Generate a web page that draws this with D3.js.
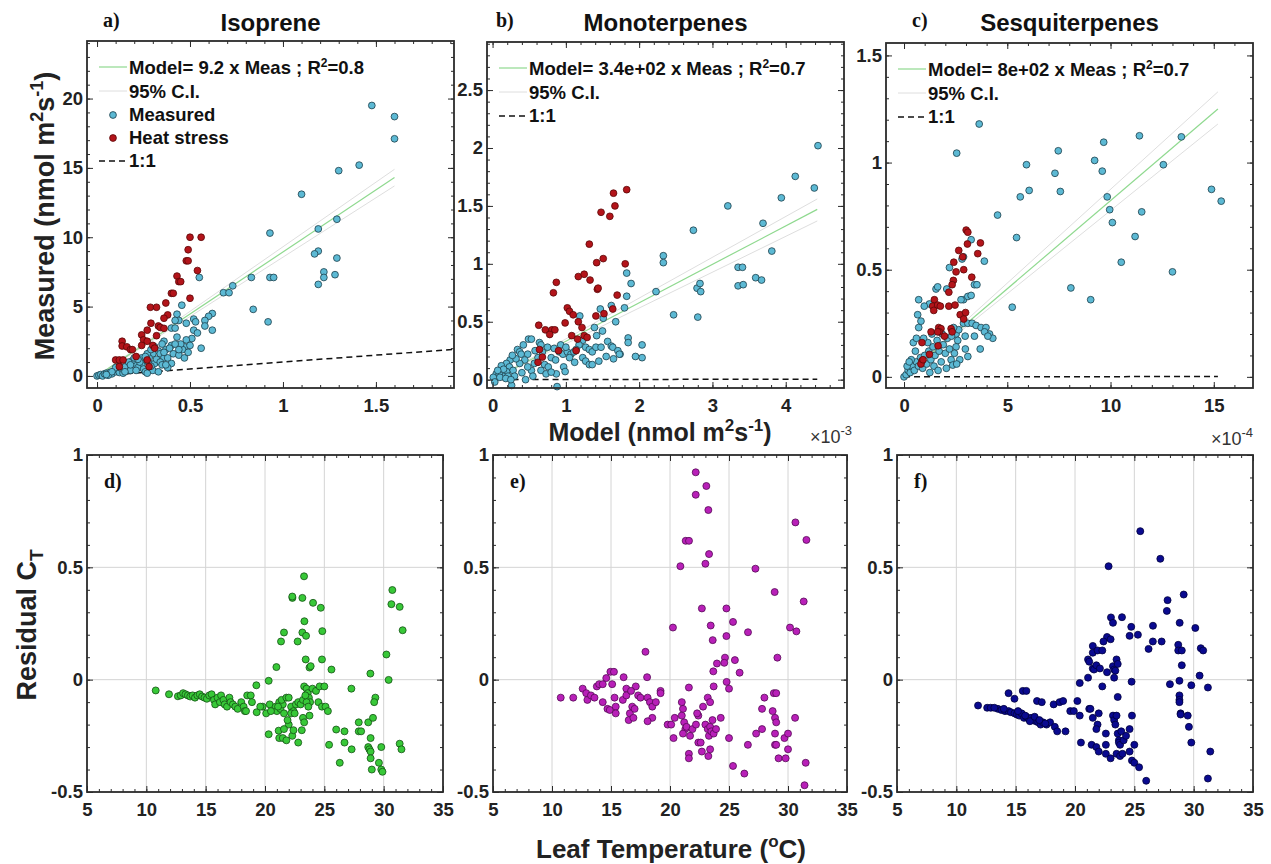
<!DOCTYPE html>
<html><head><meta charset="utf-8">
<script src="https://cdn.jsdelivr.net/npm/d3@7"></script>
<style>body{margin:0;background:#fff}svg{display:block}</style>
</head><body>
<svg id="c" width="1271" height="864"></svg>
<script>
// ---------------- DATA ----------------
const titles = ["Isoprene", "Monoterpenes", "Sesquiterpenes"];
const panelTags = ["a)", "b)", "c)", "d)", "e)", "f)"];
const legendFit = ["Model= 9.2 x Meas ; R", "Model= 3.4e+02 x Meas ; R", "Model= 8e+02 x Meas ; R"];
const legendR2 = ["=0.8", "=0.7", "=0.7"];

const isoXTicks = [0, 0.5, 1, 1.5];
const isoYTicks = [0, 5, 10, 15, 20];
const monoXTicks = [0, 1, 2, 3, 4];
const monoYTicks = [0, 0.5, 1, 1.5, 2, 2.5];
const sesqXTicks = [0, 5, 10, 15];
const sesqYTicks = [0, 0.5, 1, 1.5];
const tempTicks = [5, 10, 15, 20, 25, 30, 35];
const resTicks = [-0.5, 0, 0.5, 1];
const tempGrid = [10, 15, 20, 25, 30];
const resGrid = [0, 0.5];

// model vs measured (x = model, y = measured)
const isoMeas = [[1.478,19.5],[1.60,18.7],[1.60,17.1],[1.41,15.2],[1.30,14.8],[1.10,13.1],[1.29,11.3],[1.19,10.6],[0.93,10.3],[1.19,9.0],[1.17,8.8],[1.29,8.5],[1.22,7.5],[1.22,7.1],[1.28,7.3],[1.19,6.6],[0.83,7.1],[0.93,7.1],[0.95,7.1],[0.73,6.5],[0.68,6.0],[0.71,6.0],[0.84,4.8],[0.92,3.9],[0.55,7.1],[0.456,5.1],[0.62,4.5],[0.60,4.3],[0.58,4.0],[0.62,3.3],[0.52,4.1],[0.53,3.9],[0.48,3.8],[0.56,2.0],[0.43,4.45],[0.44,4.0],[0.42,4.0],[0.40,3.45],[0.42,3.45],[0.52,3.3],[0.54,3.1],[0.58,3.6],[0.51,2.7],[0.48,2.6],[0.47,2.1],[0.46,1.9],[0.43,2.8],[0.40,2.2],[0.37,1.9],[0.36,2.5],[0.35,2.3],[0.33,1.8],[0.34,1.6],[0.36,1.3],[0.31,2.1],[0.30,1.6],[0.28,1.3],[0.26,1.1],[0.24,1.3],[0.28,0.9],[0.31,0.9],[0.40,0.9],[0.24,0.8],[0.21,0.8],[0.19,1.1],[0.17,0.7],[0.16,0.5],[0.14,0.4],[0.30,0.4],[0.33,0.3],[0.38,1.3],[0.45,2.3],[0.0,0.0],[0.01,0.05],[0.02,0.1],[0.03,0.0],[0.04,0.15],[0.05,0.2],[0.06,0.1],[0.07,0.25],[0.08,0.15],[0.09,0.35],[0.10,0.3],[0.11,0.45],[0.12,0.25],[0.13,0.55],[0.12,0.7],[0.10,0.6],[0.15,0.65],[0.17,1.0],[0.18,0.4],[0.20,1.3],[0.22,0.6],[0.23,1.0],[0.25,0.5],[0.27,1.6],[0.26,0.3],[0.29,0.7],[0.32,1.2],[0.34,1.0],[0.35,0.8],[0.38,0.6],[0.41,1.6],[0.44,1.5],[0.47,1.3],[0.50,2.2],[0.49,1.7],[0.44,1.9],[0.42,2.3],[0.39,2.0],[0.36,1.7],[0.29,1.9],[0.26,1.4],[0.22,1.2],[0.06,0.05],[0.08,0.3],[0.05,0.1],[0.14,0.2],[0.18,0.8],[0.21,0.4],[0.15,0.3],[0.37,0.8],[0.27,0.2]];
const isoHeat = [[0.10,1.15],[0.12,1.15],[0.14,1.15],[0.12,0.67],[0.135,2.5],[0.135,2.16],[0.16,2.1],[0.18,1.9],[0.19,1.9],[0.24,2.96],[0.25,2.6],[0.27,2.5],[0.30,2.2],[0.31,2.0],[0.24,2.2],[0.27,1.15],[0.28,0.67],[0.27,3.3],[0.29,3.8],[0.33,3.6],[0.34,3.5],[0.36,3.43],[0.38,4.4],[0.36,4.16],[0.287,4.95],[0.32,4.95],[0.37,5.26],[0.50,5.6],[0.40,5.96],[0.41,5.96],[0.43,7.2],[0.44,6.8],[0.45,6.8],[0.54,7.6],[0.48,8.3],[0.49,8.3],[0.49,9.1],[0.50,10.0],[0.56,10.0],[0.21,1.4],[0.32,2.9]];
const isoFit = [[0,0],[1.6,14.3]];
const isoCIHigh = [[0,0],[1.6,14.9]];
const isoCILow = [[0,0],[1.6,13.7]];
const isoOneToOne = [[0,0],[1.92,1.92]];

const monoMeas = [[4.44,2.02],[4.13,1.755],[4.39,1.655],[3.94,1.57],[3.21,1.50],[3.69,1.35],[2.74,1.29],[3.81,1.11],[2.33,1.07],[2.33,1.01],[3.35,0.97],[3.41,0.97],[3.35,0.81],[3.42,0.82],[3.59,0.88],[3.67,0.86],[2.79,0.79],[2.83,0.83],[2.84,0.76],[2.23,0.76],[2.47,0.56],[2.80,0.54],[1.83,0.92],[1.89,0.83],[1.83,0.72],[1.80,0.62],[1.68,0.50],[1.62,0.64],[1.47,0.61],[1.51,0.53],[1.19,0.55],[1.39,0.45],[2.04,0.30],[2.04,0.19],[1.85,0.36],[1.85,0.32],[1.74,0.22],[0.88,-0.06],[0.26,-0.05],[0.49,0.35],[0.53,0.35],[0.34,0.26],[0.37,0.24],[0.39,0.22],[0.48,0.22],[0.24,0.17],[0.19,0.14],[0.12,0.12],[0.05,0.05],[0.01,0.02],[0.03,-0.02],[0.64,0.32],[0.66,0.30],[0.91,0.24],[0.96,0.22],[1.02,0.24],[1.07,0.22],[1.11,0.24],[0.80,0.19],[0.86,0.17],[0.71,0.13],[0.76,0.11],[0.97,0.11],[0.99,0.07],[0.87,0.05],[1.23,0.34],[1.18,0.30],[1.14,0.26],[1.27,0.28],[1.32,0.26],[1.36,0.24],[1.41,0.28],[1.48,0.28],[1.23,0.19],[1.27,0.16],[1.32,0.13],[1.36,0.13],[1.45,0.16],[1.57,0.33],[1.62,0.29],[1.64,0.28],[1.71,0.25],[1.73,0.22],[1.05,0.19],[1.12,0.15],[0.62,0.19],[0.57,0.14],[0.53,0.08],[0.48,0.11],[0.44,0.17],[0.37,0.14],[0.23,0.11],[0.28,0.08],[0.19,0.07],[0.14,0.03],[0.09,0.05],[0.21,0.03],[0.30,0.03],[0.66,0.08],[0.73,0.05],[0.80,0.065],[0.15,0.09],[0.10,0.02],[0.07,0.08],[0.32,0.18],[0.27,0.21],[0.42,0.30],[0.58,0.25],[0.68,0.24],[0.75,0.28],[0.84,0.27],[0.93,0.30],[1.00,0.28],[1.55,0.20],[1.65,0.18],[1.42,0.38],[1.50,0.42],[1.95,0.20],[0.40,0.06],[0.55,0.03],[0.45,0.0],[0.18,0.01],[0.25,0.0]];
const monoHeat = [[1.83,1.64],[1.65,1.61],[1.67,1.50],[1.48,1.445],[1.60,1.41],[1.32,1.17],[1.51,1.045],[1.42,1.01],[1.81,1.00],[1.43,0.78],[1.44,0.79],[0.87,0.84],[0.83,0.75],[1.17,0.89],[1.25,0.91],[1.33,0.86],[1.70,0.73],[1.02,0.62],[1.05,0.59],[1.10,0.56],[0.99,0.49],[1.17,0.50],[0.63,0.47],[0.72,0.43],[0.81,0.43],[0.85,0.43],[0.78,0.39],[1.41,0.55],[1.52,0.57],[1.64,0.61],[1.08,0.38],[1.22,0.45],[1.25,0.38],[1.29,0.365],[1.16,0.35],[1.14,0.25],[0.90,0.25],[0.64,0.26],[0.62,0.15],[0.68,0.195]];
const monoFit = [[0,0],[4.43,1.47]];
const monoCIHigh = [[0,0],[4.43,1.56]];
const monoCILow = [[0,0],[4.43,1.37]];
const monoOneToOne = [[0,0],[4.43,0.00443]];

const sesqMeas = [[3.64,1.18],[2.55,1.044],[5.93,0.99],[5.63,0.84],[6.06,0.87],[4.53,0.755],[5.45,0.65],[5.24,0.325],[7.31,0.95],[7.47,1.055],[7.57,0.865],[9.23,1.01],[9.67,1.095],[9.6,0.96],[9.84,0.84],[9.96,0.78],[10.09,0.72],[10.52,0.535],[8.08,0.415],[9.04,0.36],[11.40,1.125],[13.43,1.12],[12.56,0.99],[11.51,0.77],[11.19,0.655],[13.0,0.49],[14.89,0.875],[15.36,0.82],[3.25,0.64],[3.89,0.54],[2.88,0.56],[2.81,0.55],[2.20,0.51],[2.07,0.41],[1.55,0.41],[1.63,0.42],[1.23,0.34],[0.71,0.36],[0.98,0.33],[0.66,0.29],[0.82,0.26],[0.71,0.23],[2.88,0.36],[3.09,0.375],[3.25,0.38],[3.41,0.43],[3.53,0.43],[2.76,0.36],[2.88,0.25],[3.09,0.25],[3.30,0.25],[3.49,0.24],[3.73,0.23],[3.97,0.23],[4.14,0.20],[4.30,0.18],[3.90,0.21],[4.06,0.19],[2.96,0.19],[3.41,0.19],[3.69,0.13],[2.52,0.20],[2.60,0.17],[2.52,0.14],[2.44,0.11],[2.28,0.08],[2.36,0.055],[2.97,0.13],[3.09,0.095],[0.0,0.0],[0.1,0.01],[0.2,0.03],[0.3,0.02],[0.4,0.05],[0.5,0.03],[0.6,0.07],[0.7,0.05],[0.8,0.09],[0.9,0.04],[1.0,0.1],[1.1,0.06],[1.2,0.12],[1.3,0.08],[1.4,0.14],[1.5,0.1],[1.6,0.17],[1.7,0.12],[1.8,0.07],[1.9,0.15],[2.0,0.11],[2.1,0.18],[2.2,0.13],[1.45,0.05],[1.65,0.03],[2.05,0.04],[1.25,0.02],[0.55,0.12],[0.35,0.08],[0.15,0.05],[1.15,0.16],[1.85,0.2],[2.3,0.19],[2.65,0.22],[2.4,0.23],[0.45,0.16],[0.6,0.18],[0.95,0.18],[2.7,0.08],[2.55,0.06],[1.35,0.2],[0.25,0.07]];
const sesqHeat = [[3.01,0.685],[3.09,0.675],[3.07,0.62],[3.70,0.625],[3.57,0.575],[2.65,0.59],[2.84,0.56],[2.41,0.535],[2.89,0.50],[2.52,0.49],[3.28,0.465],[2.39,0.45],[2.33,0.43],[2.17,0.395],[1.47,0.36],[1.39,0.33],[1.63,0.335],[1.76,0.33],[2.17,0.33],[2.47,0.335],[1.44,0.31],[2.72,0.29],[2.98,0.30],[2.89,0.27],[1.68,0.23],[1.79,0.225],[1.71,0.21],[2.28,0.225],[2.33,0.21],[1.31,0.21],[1.63,0.21],[1.96,0.19],[0.87,0.16],[1.65,0.145],[1.23,0.105],[0.87,0.075],[0.82,0.06],[0.92,0.08]];
const sesqFit = [[0,0],[15.2,1.25]];
const sesqCIHigh = [[0,0],[15.2,1.33]];
const sesqCILow = [[0,0],[15.2,1.18]];
const sesqOneToOne = [[0,0],[15.2,0.00152]];

// residuals (x = leaf temperature, y = residual)
const isoRes = [[10.79,-0.048],[11.91,-0.065],[12.66,-0.074],[12.9,-0.07],[13.1,-0.06],[13.3,-0.065],[13.5,-0.07],[13.7,-0.075],[13.9,-0.07],[14.1,-0.08],[14.3,-0.07],[14.5,-0.065],[14.7,-0.075],[14.9,-0.08],[15.1,-0.085],[15.3,-0.07],[15.5,-0.065],[15.7,-0.09],[15.8,-0.11],[16.0,-0.08],[16.2,-0.1],[16.3,-0.07],[16.5,-0.09],[16.6,-0.11],[16.8,-0.12],[17.0,-0.08],[17.1,-0.1],[17.3,-0.11],[17.5,-0.12],[17.7,-0.13],[18.0,-0.1],[18.2,-0.12],[18.3,-0.14],[18.5,-0.07],[18.8,-0.07],[18.9,-0.1],[19.27,-0.025],[19.3,-0.145],[19.8,-0.12],[20.1,-0.15],[20.31,-0.005],[20.4,-0.11],[20.96,0.056],[20.9,-0.12],[21.0,-0.14],[21.2,-0.1],[21.3,-0.13],[21.5,-0.11],[21.6,-0.15],[21.4,-0.09],[21.8,-0.08],[22.0,-0.08],[22.2,-0.12],[22.4,-0.14],[22.6,-0.11],[22.8,-0.1],[23.0,-0.11],[23.2,-0.09],[23.3,-0.03],[23.5,-0.04],[23.6,-0.06],[23.7,-0.08],[23.8,-0.1],[23.5,-0.1],[23.65,-0.12],[23.4,-0.07],[24.0,-0.04],[24.3,-0.05],[24.6,-0.03],[25.0,-0.03],[24.5,-0.1],[24.8,-0.12],[25.1,-0.12],[25.3,-0.14],[23.75,-0.16],[22.0,-0.2],[21.9,-0.18],[22.2,-0.15],[22.5,-0.15],[22.31,0.364],[22.3,0.37],[23.15,0.364],[23.29,0.46],[24.05,0.342],[24.7,0.32],[23.32,0.26],[21.6,0.21],[23.15,0.21],[23.46,0.195],[24.83,0.216],[21.35,0.17],[22.75,0.17],[23.43,0.09],[24.8,0.09],[23.75,0.054],[23.85,0.06],[25.6,0.045],[27.28,-0.04],[28.88,0.027],[30.23,0.112],[30.42,-0.001],[30.73,0.399],[30.65,0.336],[31.35,0.324],[31.6,0.22],[31.35,-0.285],[31.5,-0.31],[20.31,-0.243],[21.15,-0.227],[21.2,-0.26],[21.5,-0.26],[21.8,-0.27],[21.6,-0.22],[22.3,-0.25],[22.4,-0.225],[22.8,-0.28],[23.1,-0.225],[23.2,-0.17],[23.3,-0.19],[26.0,-0.222],[26.7,-0.23],[25.4,-0.29],[26.3,-0.37],[26.7,-0.28],[27.3,-0.31],[27.9,-0.23],[28.1,-0.23],[27.9,-0.19],[28.7,-0.19],[29.1,-0.17],[29.3,-0.08],[29.2,-0.1],[28.7,-0.3],[28.8,-0.31],[28.9,-0.32],[28.9,-0.35],[28.9,-0.26],[29.0,-0.4],[29.6,-0.37],[29.8,-0.4],[29.9,-0.41],[29.8,-0.3],[21.1,-0.12],[20.5,-0.14],[18.4,-0.14],[19.6,-0.12]];
const monoRes = [[22.18,0.923],[23.08,0.862],[22.18,0.823],[23.25,0.755],[21.33,0.618],[21.61,0.618],[23.31,0.559],[20.88,0.505],[23.0,0.516],[27.24,0.494],[30.63,0.70],[31.56,0.622],[28.87,0.39],[31.33,0.348],[22.7,0.317],[24.78,0.317],[25.34,0.257],[23.45,0.241],[20.25,0.232],[26.61,0.211],[30.17,0.232],[30.71,0.215],[24.78,0.194],[23.62,0.176],[17.92,0.124],[29.1,0.098],[24.66,0.098],[24.6,0.075],[25.5,0.087],[23.98,0.072],[25.9,0.031],[23.67,0.037],[18.06,0.011],[16.07,0.011],[14.95,0.035],[15.25,0.035],[14.6,0.007],[24.8,-0.01],[25.0,-0.04],[23.7,-0.03],[21.6,-0.035],[10.74,-0.08],[11.8,-0.08],[12.6,-0.04],[12.9,-0.06],[13.0,-0.09],[13.3,-0.07],[13.6,-0.08],[13.8,-0.03],[14.0,-0.02],[14.3,-0.02],[14.3,-0.1],[14.7,-0.13],[14.9,-0.135],[15.3,-0.08],[15.4,-0.12],[15.4,-0.15],[15.1,-0.02],[16.0,-0.09],[16.3,-0.04],[16.3,-0.07],[16.8,-0.12],[16.6,-0.15],[16.5,-0.18],[16.9,-0.17],[17.0,-0.13],[17.1,-0.03],[17.3,-0.07],[17.5,-0.08],[16.7,-0.05],[18.1,-0.08],[18.3,-0.1],[18.5,-0.12],[18.8,-0.1],[19.2,-0.05],[19.2,-0.06],[18.5,-0.17],[18.1,-0.185],[19.8,-0.2],[20.1,-0.2],[20.4,-0.17],[20.3,-0.26],[21.0,-0.1],[21.1,-0.13],[21.0,-0.16],[21.2,-0.19],[21.3,-0.22],[21.1,-0.24],[21.4,-0.21],[21.6,-0.33],[21.6,-0.35],[22.4,-0.28],[22.6,-0.28],[22.7,-0.32],[21.7,-0.25],[21.9,-0.22],[22.2,-0.2],[22.4,-0.16],[22.8,-0.12],[23.0,-0.2],[23.2,-0.22],[23.3,-0.25],[23.4,-0.21],[23.5,-0.23],[23.6,-0.18],[23.7,-0.24],[23.2,-0.08],[23.4,-0.1],[23.9,-0.22],[24.3,-0.17],[23.25,-0.34],[23.4,-0.31],[22.3,-0.15],[25.0,-0.26],[25.34,-0.384],[26.3,-0.418],[26.6,-0.29],[27.3,-0.24],[27.8,-0.22],[28.0,-0.08],[27.8,-0.13],[28.7,-0.14],[28.8,-0.06],[29.0,-0.06],[28.9,-0.17],[29.0,-0.19],[28.9,-0.24],[28.9,-0.29],[29.0,-0.29],[29.2,-0.35],[29.8,-0.35],[29.7,-0.26],[30.0,-0.31],[30.0,-0.24],[30.6,-0.17],[31.5,-0.37],[31.4,-0.47]];
const sesqRes = [[25.5,0.661],[27.19,0.538],[22.83,0.505],[29.16,0.379],[27.8,0.354],[27.74,0.306],[23.96,0.278],[23.03,0.277],[23.2,0.253],[28.82,0.253],[24.74,0.235],[26.57,0.24],[30.14,0.23],[24.6,0.195],[25.3,0.2],[22.7,0.19],[23.0,0.18],[26.56,0.17],[27.3,0.17],[26.2,0.137],[28.7,0.155],[28.7,0.13],[29.0,0.13],[30.6,0.14],[30.8,0.13],[21.5,0.15],[21.5,0.12],[21.9,0.13],[22.3,0.13],[22.4,0.17],[21.1,0.09],[21.2,0.08],[21.5,0.05],[21.6,0.045],[21.8,0.064],[22.1,0.05],[22.7,0.033],[23.2,0.06],[23.3,0.045],[23.5,0.09],[23.6,0.07],[23.4,0.04],[23.3,0.009],[29.0,0.064],[30.5,0.018],[21.1,0.009],[20.4,-0.015],[24.77,-0.009],[28.0,-0.02],[28.8,-0.005],[29.8,-0.025],[31.2,-0.035],[22.3,-0.03],[23.6,-0.077],[14.4,-0.06],[14.9,-0.085],[15.6,-0.05],[15.9,-0.05],[16.8,-0.095],[17.2,-0.1],[11.83,-0.115],[12.6,-0.125],[12.9,-0.125],[13.5,-0.13],[13.8,-0.135],[14.1,-0.14],[14.4,-0.14],[14.6,-0.145],[14.9,-0.15],[15.1,-0.155],[15.3,-0.16],[15.5,-0.15],[15.7,-0.17],[15.9,-0.165],[16.1,-0.175],[16.3,-0.17],[16.5,-0.18],[16.7,-0.185],[16.9,-0.19],[17.1,-0.2],[17.3,-0.19],[17.6,-0.2],[17.9,-0.19],[18.3,-0.21],[18.5,-0.23],[15.2,-0.14],[15.8,-0.16],[16.2,-0.185],[16.6,-0.165],[17.0,-0.18],[17.5,-0.195],[13.2,-0.125],[14.0,-0.13],[18.2,-0.11],[18.7,-0.10],[19.0,-0.095],[19.6,-0.14],[19.9,-0.14],[19.2,-0.23],[20.2,-0.095],[20.4,-0.16],[21.2,-0.13],[21.3,-0.13],[21.5,-0.17],[22.0,-0.15],[21.9,-0.2],[21.8,-0.22],[20.5,-0.28],[21.4,-0.29],[21.8,-0.3],[22.0,-0.32],[22.6,-0.33],[23.0,-0.35],[23.5,-0.33],[22.6,-0.24],[22.6,-0.29],[23.2,-0.16],[23.3,-0.18],[23.4,-0.2],[23.5,-0.16],[23.6,-0.24],[23.7,-0.27],[23.7,-0.28],[23.8,-0.29],[23.9,-0.23],[23.8,-0.34],[24.0,-0.33],[24.1,-0.27],[24.3,-0.25],[24.6,-0.22],[24.8,-0.16],[24.6,-0.32],[24.8,-0.36],[25.0,-0.37],[25.4,-0.39],[25.0,-0.29],[26.0,-0.45],[29.5,-0.16],[29.6,-0.21],[29.8,-0.28],[28.8,-0.07],[28.8,-0.09],[28.8,-0.10],[28.9,-0.15],[28.9,-0.155],[31.2,-0.44],[31.4,-0.32]];

// ---------------- DRAWING ----------------
const SANS = "'Liberation Sans', Arial, Helvetica, sans-serif";
const SERIF = "'Liberation Serif', 'Times New Roman', serif";
const TICKC = "#222";
const svg = d3.select("#c");
let clipId = 0;

function range(a, b, s) { const r = []; for (let v = a; v <= b + 1e-9; v += s) r.push(+v.toFixed(6)); return r; }

// box = [left, top, right, bottom]
function panel(cfg) {
  const [x0, y0, x1, y1] = cfg.box;
  const xs = d3.scaleLinear().domain(cfg.xdom).range([x0, x1]);
  const ys = d3.scaleLinear().domain(cfg.ydom).range([y1, y0]);
  const g = svg.append("g");
  const id = "clip" + (clipId++);
  g.append("clipPath").attr("id", id).append("rect").attr("x", x0).attr("y", y0).attr("width", x1 - x0).attr("height", y1 - y0);

  if (cfg.gridX) {
    g.append("g").selectAll("line").data(cfg.gridX).join("line")
      .attr("x1", d => xs(d)).attr("x2", d => xs(d)).attr("y1", y0).attr("y2", y1)
      .attr("stroke", "#d4d4d4").attr("stroke-width", 1);
    g.append("g").selectAll("line").data(cfg.gridY).join("line")
      .attr("y1", d => ys(d)).attr("y2", d => ys(d)).attr("x1", x0).attr("x2", x1)
      .attr("stroke", "#d4d4d4").attr("stroke-width", 1);
  }

  const line = d3.line().x(d => xs(d[0])).y(d => ys(d[1]));
  const lg = g.append("g").attr("clip-path", `url(#${id})`);
  (cfg.lines || []).forEach(L => {
    lg.append("path").attr("d", line(L.data)).attr("fill", "none")
      .attr("stroke", L.color).attr("stroke-width", L.width)
      .attr("stroke-dasharray", L.dash || null);
  });

  (cfg.points || []).forEach(P => {
    g.append("g").selectAll("circle").data(P.data).join("circle")
      .attr("cx", d => xs(d[0])).attr("cy", d => ys(d[1])).attr("r", P.r)
      .attr("fill", P.fill).attr("stroke", P.stroke).attr("stroke-width", 0.8);
  });

  const fmt = d => String(d);
  function styleAxis(sel) {
    sel.select(".domain").remove();
    sel.selectAll("line").attr("stroke", "#2b2b2b").attr("stroke-width", 1);
    sel.selectAll("text").attr("font-family", SANS).attr("font-weight", "bold")
      .attr("font-size", 18.5).attr("fill", TICKC);
  }
  g.append("g").attr("transform", `translate(0,${y1})`)
    .call(d3.axisBottom(xs).tickValues(cfg.xminor).tickSize(-3).tickFormat("")).call(styleAxis);
  g.append("g").attr("transform", `translate(0,${y1})`)
    .call(d3.axisBottom(xs).tickValues(cfg.xticks).tickSize(-6).tickPadding(11).tickFormat(fmt)).call(styleAxis);
  g.append("g").attr("transform", `translate(0,${y0})`)
    .call(d3.axisTop(xs).tickValues(cfg.xminor).tickSize(-3).tickFormat("")).call(styleAxis);
  g.append("g").attr("transform", `translate(0,${y0})`)
    .call(d3.axisTop(xs).tickValues(cfg.xticks).tickSize(-6).tickFormat("")).call(styleAxis);
  g.append("g").attr("transform", `translate(${x0},0)`)
    .call(d3.axisLeft(ys).tickValues(cfg.yminor).tickSize(-3).tickFormat("")).call(styleAxis);
  g.append("g").attr("transform", `translate(${x0},0)`)
    .call(d3.axisLeft(ys).tickValues(cfg.yticks).tickSize(-6).tickPadding(4).tickFormat(fmt)).call(styleAxis);
  g.append("g").attr("transform", `translate(${x1},0)`)
    .call(d3.axisRight(ys).tickValues(cfg.yminor).tickSize(-3).tickFormat("")).call(styleAxis);
  g.append("g").attr("transform", `translate(${x1},0)`)
    .call(d3.axisRight(ys).tickValues(cfg.yticks).tickSize(-6).tickFormat("")).call(styleAxis);

  g.append("rect").attr("x", x0).attr("y", y0).attr("width", x1 - x0).attr("height", y1 - y0)
    .attr("fill", "none").attr("stroke", "#2b2b2b").attr("stroke-width", 1.8);
  return { g, xs, ys };
}

const CYAN = "#5cb9d4", CYAN_S = "#1d3f4a";
const RED = "#b3141a", RED_S = "#5a0808";
const GREEN_LINE = "#8fd98f", CI = "#dedede";
const tagX = [103, 496, 912];

function topPanel(i, box, xdom, ydom, xticks, yticks, xminor, yminor, meas, heat, fit, ciH, ciL, one, showMarkers) {
  const pts = [{ data: meas, fill: CYAN, stroke: CYAN_S, r: 3.4 }, { data: heat, fill: RED, stroke: RED_S, r: 3.4 }];
  panel({
    box, xdom, ydom, xticks, yticks, xminor, yminor,
    lines: [
      { data: one, color: "#111", width: 1.5, dash: "6,4" },
      { data: ciH, color: CI, width: 1 },
      { data: ciL, color: CI, width: 1 },
      { data: fit, color: GREEN_LINE, width: 1.2 }
    ],
    points: pts
  });
  const lx = box[0] + 12, tx = box[0] + 42;
  const g = svg.append("g").attr("font-family", SANS).attr("font-weight", "bold").attr("font-size", 18.5).attr("fill", "#111");
  let ly = box[1] + 33;
  g.append("line").attr("x1", lx).attr("x2", lx + 28).attr("y1", ly - 7).attr("y2", ly - 7).attr("stroke", GREEN_LINE).attr("stroke-width", 1.2);
  const t = g.append("text").attr("x", tx).attr("y", ly);
  t.append("tspan").text(legendFit[i]);
  t.append("tspan").attr("dy", -7).attr("font-size", 12).text("2");
  t.append("tspan").attr("dy", 7).text(legendR2[i]);
  ly += 24;
  g.append("line").attr("x1", lx).attr("x2", lx + 28).attr("y1", ly - 7).attr("y2", ly - 7).attr("stroke", CI).attr("stroke-width", 1);
  g.append("text").attr("x", tx).attr("y", ly).text("95% C.I.");
  if (showMarkers) {
    ly += 23;
    g.append("circle").attr("cx", lx + 14).attr("cy", ly - 6).attr("r", 3.4).attr("fill", CYAN).attr("stroke", CYAN_S).attr("stroke-width", 0.8);
    g.append("text").attr("x", tx).attr("y", ly).text("Measured");
    ly += 23;
    g.append("circle").attr("cx", lx + 14).attr("cy", ly - 6).attr("r", 3.4).attr("fill", RED).attr("stroke", RED_S).attr("stroke-width", 0.8);
    g.append("text").attr("x", tx).attr("y", ly).text("Heat stress");
  }
  ly += 23;
  g.append("line").attr("x1", lx).attr("x2", lx + 28).attr("y1", ly - 6).attr("y2", ly - 6).attr("stroke", "#111").attr("stroke-width", 1.5).attr("stroke-dasharray", "6,4");
  g.append("text").attr("x", tx).attr("y", ly).text("1:1");

  svg.append("text").attr("x", (box[0] + box[2]) / 2).attr("y", 31).attr("text-anchor", "middle")
    .attr("font-family", SANS).attr("font-weight", "bold").attr("font-size", 24).attr("fill", "#111").text(titles[i]);
  svg.append("text").attr("x", tagX[i]).attr("y", 27).attr("font-family", SERIF).attr("font-weight", "bold")
    .attr("font-size", 20).attr("fill", "#111").text(panelTags[i]);
}

topPanel(0, [87, 41, 454, 388], [-0.054, 1.92], [-0.87, 24.15], isoXTicks, isoYTicks, range(0, 1.9, 0.1), range(0, 24, 1), isoMeas, isoHeat, isoFit, isoCIHigh, isoCILow, isoOneToOne, true);
topPanel(1, [487, 42, 844, 388], [-0.076, 4.795], [-0.072, 2.915], monoXTicks, monoYTicks, range(0, 4.6, 0.2), range(0, 2.9, 0.1), monoMeas, monoHeat, monoFit, monoCIHigh, monoCILow, monoOneToOne, false);
topPanel(2, [886, 43, 1253, 388], [-0.873, 16.9], [-0.052, 1.558], sesqXTicks, sesqYTicks, range(0, 16, 1), range(0, 1.5, 0.1), sesqMeas, sesqHeat, sesqFit, sesqCIHigh, sesqCILow, sesqOneToOne, false);

function bottomPanel(i, box, data, fill, stroke) {
  panel({
    box, xdom: [5, 35], ydom: [-0.5, 1], xticks: tempTicks, yticks: resTicks,
    xminor: range(5, 35, 1), yminor: range(-0.5, 1, 0.1), gridX: tempGrid, gridY: resGrid,
    points: [{ data, fill, stroke, r: 3.5 }]
  });
  svg.append("text").attr("x", box[0] + 17).attr("y", box[1] + 33).attr("font-family", SERIF).attr("font-weight", "bold")
    .attr("font-size", 20).attr("fill", "#111").text(panelTags[i + 3]);
}
bottomPanel(0, [87, 455, 443, 792], isoRes, "#38c838", "#145214");
bottomPanel(1, [493, 455, 847, 792], monoRes, "#b820b8", "#560a56");
bottomPanel(2, [897, 455, 1253, 792], sesqRes, "#0a0a90", "#00003c");

// axis titles
const yl = svg.append("text").attr("transform", "translate(54,216) rotate(-90)").attr("text-anchor", "middle")
  .attr("font-family", SANS).attr("font-weight", "bold").attr("font-size", 27).attr("fill", "#222");
yl.append("tspan").text("Measured (nmol m");
yl.append("tspan").attr("font-size", 18).attr("dy", -11).text("2");
yl.append("tspan").attr("dy", 11).text("s");
yl.append("tspan").attr("font-size", 18).attr("dy", -11).text("-1");
yl.append("tspan").attr("dy", 11).text(")");

const xl = svg.append("text").attr("x", 660).attr("y", 441).attr("text-anchor", "middle")
  .attr("font-family", SANS).attr("font-weight", "bold").attr("font-size", 25).attr("fill", "#222");
xl.append("tspan").text("Model (nmol m");
xl.append("tspan").attr("font-size", 17).attr("dy", -10).text("2");
xl.append("tspan").attr("dy", 10).text("s");
xl.append("tspan").attr("font-size", 17).attr("dy", -10).text("-1");
xl.append("tspan").attr("dy", 10).text(")");

function expLabel(x, y, e) {
  const t = svg.append("text").attr("x", x).attr("y", y).attr("text-anchor", "end")
    .attr("font-family", SANS).attr("font-size", 18).attr("fill", "#333");
  t.append("tspan").text("\u00d710");
  t.append("tspan").attr("font-size", 13).attr("dy", -8).text(e);
}
expLabel(852, 443, "-3");
expLabel(1253, 445, "-4");

const rl = svg.append("text").attr("transform", "translate(36,625) rotate(-90)").attr("text-anchor", "middle")
  .attr("font-family", SANS).attr("font-weight", "bold").attr("font-size", 27).attr("fill", "#222");
rl.append("tspan").text("Residual C");
rl.append("tspan").attr("font-size", 19).attr("dy", 7).text("T");

const bl = svg.append("text").attr("x", 671).attr("y", 858).attr("text-anchor", "middle")
  .attr("font-family", SANS).attr("font-weight", "bold").attr("font-size", 26).attr("fill", "#222");
bl.append("tspan").text("Leaf Temperature (");
bl.append("tspan").attr("font-size", 17).attr("dy", -11).text("o");
bl.append("tspan").attr("dy", 11).text("C)");
</script>
</body></html>
